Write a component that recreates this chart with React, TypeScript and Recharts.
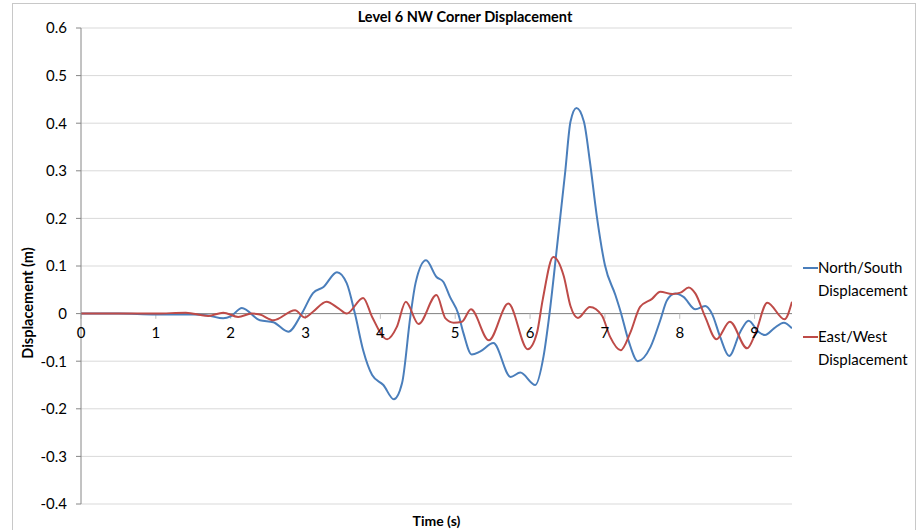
import { LineChart, Line, XAxis, YAxis, CartesianGrid, ReferenceLine, ReferenceDot } from "recharts";

document.body.style.margin = "0";

const FONT = "Lato, 'Open Sans', sans-serif";
const BLUE = "#4a7ebb";
const RED = "#be4b48";

// time (s) and displacement (m)
const nsTime = [0, 0.5, 1.0, 1.5, 1.7, 1.9, 2.0, 2.15, 2.39, 2.57, 2.77, 2.95, 3.1, 3.24, 3.42, 3.55, 3.66, 3.77, 3.89, 4.04, 4.18, 4.29, 4.4, 4.47, 4.61, 4.75, 4.84, 4.93, 5.04, 5.11, 5.22, 5.33, 5.51, 5.74, 5.87, 6.07, 6.18, 6.26, 6.36, 6.47, 6.54, 6.62, 6.72, 6.8, 6.89, 7.0, 7.14, 7.21, 7.32, 7.44, 7.61, 7.74, 7.83, 7.94, 8.05, 8.21, 8.34, 8.43, 8.54, 8.66, 8.81, 8.92, 9.05, 9.14, 9.26, 9.39, 9.5];
const nsDisp = [0, 0, -0.002, -0.002, -0.004, -0.01, -0.006, 0.012, -0.014, -0.018, -0.038, 0, 0.043, 0.056, 0.087, 0.064, 0, -0.077, -0.129, -0.15, -0.18, -0.146, -0.007, 0.064, 0.112, 0.077, 0.067, 0.035, 0, -0.041, -0.086, -0.08, -0.062, -0.133, -0.124, -0.15, -0.09, 0, 0.14, 0.298, 0.403, 0.432, 0.403, 0.319, 0.207, 0.102, 0.039, 0.004, -0.059, -0.1, -0.07, -0.014, 0.028, 0.042, 0.035, 0.009, 0.016, 0, -0.049, -0.089, -0.038, -0.015, -0.038, -0.045, -0.031, -0.019, -0.031];

const ewTime = [0, 1.0, 1.4, 1.7, 1.9, 2.1, 2.28, 2.39, 2.57, 2.86, 2.99, 3.1, 3.28, 3.44, 3.55, 3.77, 3.89, 4.09, 4.22, 4.34, 4.51, 4.75, 4.87, 4.98, 5.09, 5.21, 5.45, 5.71, 5.97, 6.09, 6.17, 6.31, 6.45, 6.54, 6.64, 6.8, 6.96, 7.07, 7.21, 7.34, 7.47, 7.63, 7.74, 7.9, 8.01, 8.12, 8.21, 8.34, 8.49, 8.67, 8.9, 9.01, 9.17, 9.4, 9.5];
const ewDisp = [0, 0, 0.002, -0.005, 0.002, -0.007, 0, -0.002, -0.014, 0.007, -0.008, 0.004, 0.025, 0.011, 0, 0.033, -0.007, -0.054, -0.028, 0.025, -0.022, 0.039, -0.01, -0.019, -0.017, 0.009, -0.056, 0.021, -0.075, -0.042, 0.03, 0.119, 0.079, 0.016, -0.009, 0.014, -0.004, -0.049, -0.077, -0.04, 0.014, 0.031, 0.046, 0.041, 0.044, 0.055, 0.042, -0.007, -0.054, -0.017, -0.073, -0.042, 0.023, -0.012, 0.025];

const xTicks = [0, 1, 2, 3, 4, 5, 6, 7, 8, 9];
const yTicks = [-0.4, -0.3, -0.2, -0.1, 0, 0.1, 0.2, 0.3, 0.4, 0.5, 0.6];

const nsData = nsTime.map((t, i) => ({ t, v: nsDisp[i] }));
const ewData = ewTime.map((t, i) => ({ t, v: ewDisp[i] }));

const legendItems = [
  { color: BLUE, lines: ["North/South", "Displacement"] },
  { color: RED, lines: ["East/West", "Displacement"] },
];

function LegendBox() {
  return (
    <div
      style={{
        position: "absolute",
        left: 803,
        top: 256,
        fontFamily: FONT,
        fontSize: 15,
        color: "#000",
        lineHeight: "23px",
      }}
    >
      {legendItems.map((item) => (
        <div key={item.lines[0]} style={{ display: "flex", marginBottom: 23 }}>
          <div style={{ width: 15, height: 2, background: item.color, marginTop: 11 }} />
          <div>
            {item.lines.map((l) => (
              <div key={l}>{l}</div>
            ))}
          </div>
        </div>
      ))}
    </div>
  );
}

export default function App() {
  return (
    <div style={{ position: "relative", width: 924, height: 530, overflow: "hidden", background: "#fff" }}>
      <div
        style={{
          position: "absolute",
          left: 12,
          top: 3,
          width: 904,
          height: 540,
          border: "1px solid #c8c8c8",
          boxSizing: "border-box",
        }}
      />
      <div
        style={{
          position: "absolute",
          left: 0,
          width: 930,
          top: 8,
          textAlign: "center",
          fontFamily: FONT,
          fontWeight: 700,
          fontSize: 14.5,
          color: "#000",
        }}
      >
        Level 6 NW Corner Displacement
      </div>
      <LineChart width={924} height={530} margin={{ top: 28, right: 132, left: 21, bottom: 0 }}>
        <CartesianGrid horizontal vertical={false} stroke="#d9d9d9" strokeWidth={1} />
        <XAxis
          type="number"
          dataKey="t"
          domain={[0, 9.5]}
          ticks={xTicks}
          tick={false}
          tickLine={false}
          axisLine={false}
          height={26}
          allowDataOverflow
          label={{
            value: "Time (s)",
            position: "insideBottom",
            offset: 4,
            style: { fontFamily: FONT, fontWeight: 700, fontSize: 14, fill: "#000" },
          }}
        />
        <YAxis
          type="number"
          domain={[-0.4, 0.6]}
          ticks={yTicks}
          width={60}
          tickSize={5}
          tickMargin={9}
          stroke="#868686"
          tick={{ fontFamily: FONT, fontSize: 15, fill: "#000" }}
          tickFormatter={(v: number) => String(v)}
          label={{
            content: () => (
              <text
                transform="translate(27,303) rotate(-90)"
                textAnchor="middle"
                dominantBaseline="central"
                style={{ fontFamily: FONT, fontWeight: 700, fontSize: 14.5, fill: "#000" }}
              >
                Displacement (m)
              </text>
            ),
          }}
        />
        <ReferenceLine y={0} stroke="#868686" strokeWidth={1} />
        {xTicks.map((t) => (
          <ReferenceLine
            key={"tk" + t}
            segment={[
              { x: t, y: 0 },
              { x: t, y: -0.011 },
            ]}
            stroke="#bfbfbf"
          />
        ))}
        {xTicks.map((t) => (
          <ReferenceDot
            key={"tl" + t}
            x={t}
            y={0}
            r={0}
            stroke="none"
            fill="none"
            label={{
              value: String(t),
              position: "bottom",
              offset: 14,
              style: { fontFamily: FONT, fontSize: 15, fill: "#000" },
            }}
          />
        ))}
        <Line
          data={nsData}
          dataKey="v"
          name="North/South Displacement"
          type="monotone"
          stroke={BLUE}
          strokeWidth={2}
          dot={false}
          isAnimationActive={false}
        />
        <Line
          data={ewData}
          dataKey="v"
          name="East/West Displacement"
          type="monotone"
          stroke={RED}
          strokeWidth={2}
          dot={false}
          isAnimationActive={false}
        />
      </LineChart>
      <LegendBox />
    </div>
  );
}
